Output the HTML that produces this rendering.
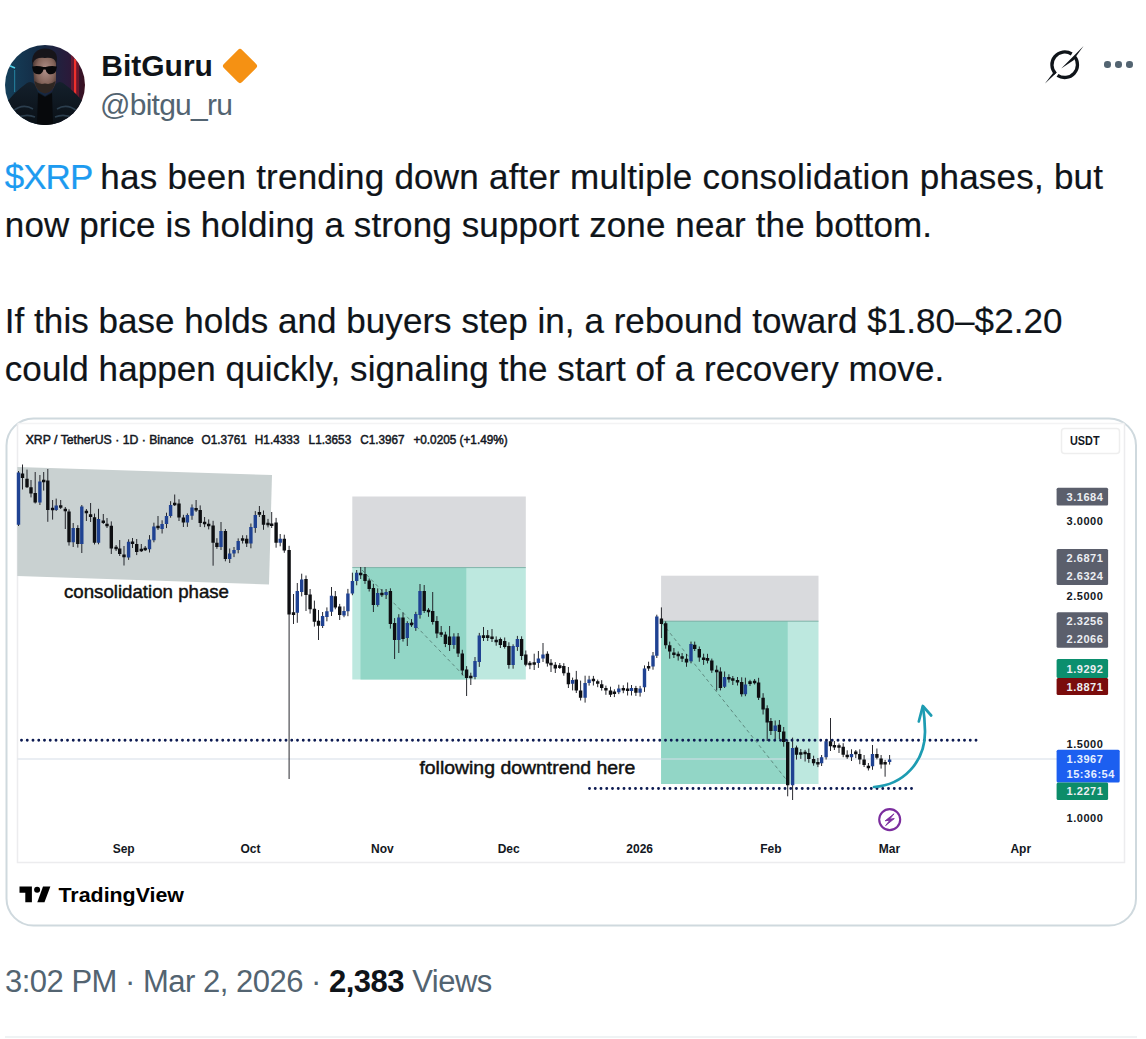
<!DOCTYPE html><html><head><meta charset="utf-8"><style>
*{margin:0;padding:0;box-sizing:border-box}
html,body{width:1146px;height:1039px;background:#fff;overflow:hidden}
body{position:relative;font-family:"Liberation Sans",sans-serif;color:#0f1419}
.a{position:absolute;white-space:nowrap}
</style></head><body>
<svg class="a" style="left:5px;top:45px" width="80" height="80" viewBox="0 0 80 80">
<defs>
<clipPath id="av"><circle cx="40" cy="40" r="40"/></clipPath>
<linearGradient id="bgav" x1="0" x2="1" y1="0" y2="0"><stop offset="0" stop-color="#15405a"/><stop offset="0.45" stop-color="#142a44"/><stop offset="0.8" stop-color="#2a1a3a"/><stop offset="1" stop-color="#3a1020"/></linearGradient>
<radialGradient id="face" cx="0.55" cy="0.35" r="0.65"><stop offset="0" stop-color="#b0908a"/><stop offset="0.6" stop-color="#84645a"/><stop offset="1" stop-color="#3c2c2a"/></radialGradient>
<linearGradient id="jk" x1="0" x2="0" y1="0" y2="1"><stop offset="0" stop-color="#14202c"/><stop offset="1" stop-color="#0a1016"/></linearGradient>
</defs>
<g clip-path="url(#av)">
<rect width="80" height="80" fill="url(#bgav)"/>
<rect x="69" y="14" width="2.2" height="44" fill="#ff3b2a"/>
<rect x="66" y="10" width="8" height="50" fill="#d02030" opacity="0.35"/>
<path d="M3 20 L10 23" stroke="#4fd0e8" stroke-width="1.6"/>
<rect x="9" y="25" width="1.2" height="22" fill="#2aa0c0" opacity="0.6"/>
<path d="M27 16 Q28 4 40 3.5 Q52 4 52 14 L51 22 L28 22 Z" fill="#17151a"/>
<path d="M28 18 Q30 12 40 13 Q50 12 51 18 L51 36 Q50 46 40 48 Q30 46 29 36 Z" fill="url(#face)"/>
<path d="M29.5 36 Q31 47 40 48.5 Q49 47 50.5 36 Q46 40 40 38.5 Q34 40 29.5 36 Z" fill="#2e2622"/>
<path d="M27 21.5 Q33 20.5 38.5 22 L40.5 22 Q46 20.5 52 21.5 L51 26 Q49 30 43.5 29 Q41 27.5 40.5 24.5 L38.5 24.5 Q38 27.5 35.5 29 Q30 30 28 26 Z" fill="#08080a"/>
<path d="M0 80 L0 60 Q8 48 22 38 Q27 35 30 40 L33 47 L40 51 L47 47 L50 40 Q53 35 58 38 Q72 48 80 60 L80 80 Z" fill="url(#jk)"/>
<path d="M8 66 Q18 58 28 64 M10 74 Q20 68 30 72 M52 64 Q62 58 72 66 M50 72 Q60 68 70 74" stroke="#33485a" stroke-width="1.6" fill="none" opacity="0.8"/>
<path d="M33 48 L40 52 L47 48 L48 80 L32 80 Z" fill="#07090c"/>
</g></svg>
<div class="a" style="left:101.3px;top:45.5px;font-size:30px;font-weight:700;line-height:40px;color:#0f1419">BitGuru</div>
<svg class="a" style="left:220.8px;top:46.8px" width="38" height="38" viewBox="0 0 38 38"><rect x="6.1" y="6.1" width="25.8" height="25.8" rx="3" transform="rotate(45 19 19)" fill="#f59113"/></svg>
<div class="a" style="left:100px;top:85px;font-size:30px;line-height:40px;color:#536471;letter-spacing:-0.75px">@bitgu_ru</div>
<svg class="a" style="left:0;top:0" width="1146" height="100" viewBox="0 0 1146 100">
<path d="M1074.5 56.5 A12.8 12.8 0 0 1 1057.5 75.3" fill="none" stroke="#0f1419" stroke-width="3.3"/>
<path d="M1071.7 54.0 A12.8 12.8 0 0 0 1055.5 73.6" fill="none" stroke="#0f1419" stroke-width="3.3"/>
<path d="M1056.8 72.6 L1053.0 73.1 L1045.0 83.6 Z" fill="#0f1419"/>
<path d="M1061.2 68.5 L1073.6 60.3 L1076.3 56.0 L1083.6 45.9 Z" fill="#0f1419"/>
</svg>
<div class="a" style="left:1104.3999999999999px;top:61.39999999999999px;width:6.4px;height:6.4px;border-radius:50%;background:#536471"></div>
<div class="a" style="left:1115.3999999999999px;top:61.39999999999999px;width:6.4px;height:6.4px;border-radius:50%;background:#536471"></div>
<div class="a" style="left:1126.3px;top:61.39999999999999px;width:6.4px;height:6.4px;border-radius:50%;background:#536471"></div>
<div class="a" style="left:4.8px;top:152.7px;font-size:35px;line-height:48px;color:#0f1419;letter-spacing:0.23px;-webkit-text-stroke:0.2px currentColor"><span style="color:#1d9bf0;letter-spacing:-1px">$XRP </span>has been trending down after multiple consolidation phases, but</div>
<div class="a" style="left:4.8px;top:200.7px;font-size:35px;line-height:48px;color:#0f1419;letter-spacing:0.12px;-webkit-text-stroke:0.2px currentColor">now price is holding a strong support zone near the bottom.</div>
<div class="a" style="left:4.8px;top:296.7px;font-size:35px;line-height:48px;color:#0f1419;letter-spacing:0.045px;-webkit-text-stroke:0.2px currentColor">If this base holds and buyers step in, a rebound toward $1.80–$2.20</div>
<div class="a" style="left:4.8px;top:344.7px;font-size:35px;line-height:48px;color:#0f1419;letter-spacing:0.07px;-webkit-text-stroke:0.2px currentColor">could happen quickly, signaling the start of a recovery move.</div>
<svg class="a" style="left:0;top:0" width="1146" height="1039" viewBox="0 0 1146 1039">
<rect x="6.5" y="418.5" width="1129.5" height="507" rx="27" fill="#fff" stroke="#cfd9de" stroke-width="2"/>
<path d="M17.5 424 V862.5 H1124.5 V424" fill="none" stroke="#ececee" stroke-width="1.5"/>
<path d="M17.5 423.5 H1124.5" fill="none" stroke="#f3f3f4" stroke-width="1.5"/>
<rect x="1061.5" y="428.5" width="58" height="25" rx="3" fill="#fff" stroke="#eeeeee" stroke-width="1.5"/>
<polygon points="17.3,467 272,475 269,584.4 17.3,576" fill="#c9d1d1"/>
<rect x="352.3" y="496.5" width="173.5" height="71" fill="#d9dadd"/>
<rect x="352.3" y="567.5" width="173.5" height="112" fill="#bde8df"/>
<rect x="360.5" y="567.5" width="105.8" height="112" fill="#92d6c6"/>
<line x1="352.3" y1="567.6" x2="525.8" y2="567.6" stroke="#7fb3a8" stroke-width="1"/>
<line x1="362" y1="570" x2="466" y2="678" stroke="#5f8a80" stroke-width="1" stroke-dasharray="3.5 3"/>
<rect x="661.1" y="575.7" width="157.4" height="45.3" fill="#d9dadd"/>
<rect x="661.1" y="621" width="157.4" height="163" fill="#bde8df"/>
<rect x="661.1" y="621" width="126.6" height="163" fill="#92d6c6"/>
<line x1="661.1" y1="621.2" x2="818.5" y2="621.2" stroke="#7fb3a8" stroke-width="1"/>
<line x1="662" y1="623" x2="789" y2="783" stroke="#5f8a80" stroke-width="1" stroke-dasharray="3.5 3"/>
<line x1="17.5" y1="759" x2="1057" y2="759" stroke="#d6dde8" stroke-width="1.2"/>
<path d="M18.5 471.0V526.0M22.5 464.5V489.5M27.0 469.6V488.0M31.0 480.0V497.4M35.2 472.0V503.5M39.9 475.0V505.0M43.7 472.0V490.6M47.8 469.0V521.8M52.6 500.0V519.6M56.2 498.6V511.0M60.7 500.0V509.0M65.3 507.0V529.0M69.0 509.3V545.6M73.2 523.0V547.0M77.8 525.2V547.6M81.8 505.0V553.0M86.4 509.0V521.0M90.6 503.0V522.0M94.5 513.6V544.5M98.5 508.8V544.3M103.3 514.0V524.0M107.0 518.0V528.0M111.3 521.4V554.0M116.1 545.0V551.0M119.7 540.0V556.0M124.0 546.0V565.5M128.6 539.3V559.9M132.5 538.0V548.0M136.7 539.0V555.1M141.3 544.0V552.0M145.2 546.0V551.0M149.5 535.1V552.5M153.9 522.7V542.3M158.0 516.0V530.0M162.1 520.3V533.5M166.5 512.7V528.1M170.6 501.2V517.7M174.7 494.5V506.0M179.0 499.3V521.0M183.4 514.8V527.0M187.4 513.4V526.9M192.0 504.4V519.8M196.1 500.0V512.0M200.2 505.4V527.0M204.6 517.0V527.2M208.7 519.4V529.4M213.1 520.8V565.7M216.9 538.2V548.8M221.0 522.0V550.0M225.4 529.0V561.3M229.7 548.5V563.0M234.0 547.0V557.1M238.2 538.4V553.3M242.6 535.3V543.5M246.7 535.2V547.0M250.9 523.5V548.3M255.3 511.1V532.8M259.4 506.0V517.0M263.5 510.5V529.8M268.0 518.9V527.4M271.7 512.0V528.0M276.1 517.9V547.7M280.2 534.0V546.3M284.3 534.7V552.8M289.1 545.8V779.0M293.5 594.0V624.0M297.3 583.0V622.8M301.7 573.7V596.4M306.0 575.5V611.0M310.1 589.0V613.6M314.4 600.6V626.6M318.5 610.0V640.0M322.6 612.0V628.0M326.9 607.4V621.3M331.5 587.0V616.0M335.3 591.0V609.3M339.7 603.9V620.0M344.0 606.4V617.2M347.9 588.9V616.2M352.4 572.7V595.2M356.7 570.0V585.3M360.7 567.0V579.0M365.0 567.0V583.9M369.2 578.5V591.5M373.4 583.8V612.0M377.7 588.4V606.7M381.9 589.0V597.0M386.1 589.0V599.0M390.4 588.3V628.6M394.6 618.1V659.0M398.8 614.2V653.0M403.0 612.5V641.6M407.3 621.2V646.0M411.5 619.1V626.9M415.8 611.8V630.9M420.0 584.0V618.6M424.2 585.0V613.0M428.5 608.1V616.8M432.7 592.0V624.6M436.9 616.1V638.1M441.2 626.0V637.0M445.4 631.7V647.1M449.6 626.0V651.0M453.9 633.3V648.8M458.1 633.0V657.0M462.3 649.8V675.3M466.6 666.1V696.0M470.8 672.7V685.0M475.0 657.0V679.3M479.3 632.9V666.9M483.5 627.0V641.0M487.7 630.0V641.0M492.0 629.0V642.0M496.2 636.4V645.7M500.4 637.5V648.0M504.7 637.5V648.6M508.9 642.3V668.7M513.1 644.3V668.7M517.4 635.9V650.9M521.6 636.3V660.0M525.8 650.5V666.3M529.9 661.0V669.2M534.2 653.7V670.0M538.4 651.0V667.9M543.0 643.0V662.0M547.4 651.3V666.6M551.0 659.1V672.0M555.3 662.1V673.0M559.8 663.0V669.0M563.8 663.2V675.7M568.4 667.0V688.0M572.6 677.6V690.4M576.3 670.9V693.0M580.6 680.6V700.5M585.1 675.7V702.6M589.1 675.8V685.6M593.4 675.9V685.5M597.7 679.6V687.2M601.7 680.2V690.6M605.9 685.6V694.8M610.5 686.7V697.0M614.4 689.3V697.1M618.8 684.7V694.1M623.3 685.3V693.2M627.6 682.5V695.5M631.5 685.0V695.5M635.9 685.9V695.9M640.1 685.9V696.6M644.5 665.4V691.9M648.6 661.7V670.9M653.0 652.0V669.7M656.8 614.7V658.0M661.4 607.4V638.0M665.7 621.4V648.7M669.7 641.6V658.7M673.9 648.0V658.0M678.2 651.5V660.6M682.1 653.0V662.0M686.5 654.0V666.8M691.0 641.6V663.3M694.7 641.6V651.0M699.3 646.5V661.8M703.6 653.7V664.9M707.5 653.8V663.4M711.8 658.6V672.9M716.7 665.5V690.5M720.4 667.3V690.4M724.6 671.5V688.0M728.9 674.3V682.6M732.8 676.0V685.0M737.5 677.0V685.5M741.7 677.3V696.6M745.4 677.7V696.2M750.0 679.8V686.0M754.6 679.0V684.5M758.6 677.8V700.0M763.1 693.2V714.5M767.2 705.3V741.0M770.9 718.0V735.0M775.2 720.5V739.0M779.4 720.0V739.0M783.7 727.0V746.7M787.7 739.7V796.3M792.6 737.6V800.0M796.5 745.6V759.6M800.8 749.0V758.9M805.1 749.9V761.5M808.8 748.6V762.8M813.6 755.7V765.7M817.9 758.0V767.1M821.6 755.0V766.0M826.1 739.5V759.5M830.5 718.0V751.0M834.4 741.0V750.0M839.0 743.5V753.0M843.2 743.2V757.2M847.2 750.3V758.9M851.5 749.3V761.0M855.8 750.0V758.1M859.8 749.3V764.2M864.1 755.0V767.0M868.4 763.0V770.5M872.5 745.0V769.8M876.9 748.5V759.3M881.1 755.0V768.6M885.1 759.9V776.7M889.6 755.0V764.6" stroke="#1c1e24" stroke-width="1" fill="none" opacity="0.95"/>
<path d="M20.8 473.6h3.4V478.0h-3.4ZM25.3 478.7h3.4V487.2h-3.4ZM29.3 487.2h3.4V493.5h-3.4ZM33.5 493.0h3.4V502.5h-3.4ZM42.0 479.7h3.4V482.3h-3.4ZM46.1 480.4h3.4V510.0h-3.4ZM50.9 507.7h3.4V510.3h-3.4ZM59.0 505.2h3.4V507.8h-3.4ZM63.6 508.7h3.4V511.3h-3.4ZM67.3 511.6h3.4V542.2h-3.4ZM76.1 528.0h3.4V544.0h-3.4ZM84.7 510.7h3.4V513.3h-3.4ZM88.9 514.3h3.4V516.9h-3.4ZM92.8 517.3h3.4V542.8h-3.4ZM101.6 520.5h3.4V523.1h-3.4ZM105.3 523.7h3.4V526.3h-3.4ZM109.6 525.8h3.4V548.5h-3.4ZM114.4 546.7h3.4V549.3h-3.4ZM118.0 548.5h3.4V554.0h-3.4ZM122.3 554.6h3.4V557.2h-3.4ZM130.8 541.5h3.4V544.1h-3.4ZM135.0 544.0h3.4V552.0h-3.4ZM139.6 548.8h3.4V551.3h-3.4ZM143.5 547.7h3.4V550.3h-3.4ZM156.3 525.7h3.4V528.3h-3.4ZM173.0 502.7h3.4V505.3h-3.4ZM177.3 503.5h3.4V517.4h-3.4ZM181.7 517.4h3.4V522.4h-3.4ZM194.4 508.0h3.4V510.6h-3.4ZM198.5 510.0h3.4V523.0h-3.4ZM202.9 521.7h3.4V524.3h-3.4ZM207.0 523.7h3.4V526.3h-3.4ZM211.4 525.6h3.4V542.8h-3.4ZM215.2 542.8h3.4V547.0h-3.4ZM223.7 531.0h3.4V559.0h-3.4ZM240.9 538.2h3.4V540.8h-3.4ZM245.0 538.7h3.4V543.6h-3.4ZM257.7 512.1h3.4V514.7h-3.4ZM261.8 515.0h3.4V524.8h-3.4ZM266.3 522.7h3.4V525.3h-3.4ZM270.0 523.5h3.4V526.1h-3.4ZM274.4 522.4h3.4V542.8h-3.4ZM282.6 538.7h3.4V550.6h-3.4ZM287.4 550.0h3.4V614.6h-3.4ZM291.8 612.3h3.4V614.9h-3.4ZM304.3 579.0h3.4V594.9h-3.4ZM308.4 594.4h3.4V609.3h-3.4ZM312.7 608.8h3.4V621.8h-3.4ZM316.8 620.8h3.4V625.7h-3.4ZM333.6 596.3h3.4V607.4h-3.4ZM338.0 606.4h3.4V615.0h-3.4ZM359.0 572.7h3.4V575.3h-3.4ZM363.3 574.0h3.4V581.0h-3.4ZM367.5 580.5h3.4V589.0h-3.4ZM371.7 588.0h3.4V605.0h-3.4ZM380.2 592.7h3.4V595.3h-3.4ZM388.7 591.0h3.4V624.0h-3.4ZM392.9 623.0h3.4V640.0h-3.4ZM401.3 617.5h3.4V639.0h-3.4ZM409.8 622.7h3.4V625.3h-3.4ZM422.5 591.0h3.4V611.0h-3.4ZM426.8 609.7h3.4V612.3h-3.4ZM431.0 611.0h3.4V622.0h-3.4ZM435.2 621.0h3.4V633.5h-3.4ZM439.5 632.2h3.4V634.8h-3.4ZM443.7 634.5h3.4V644.0h-3.4ZM447.9 636.6h3.4V645.0h-3.4ZM456.4 636.6h3.4V653.5h-3.4ZM460.6 653.5h3.4V670.5h-3.4ZM464.9 669.4h3.4V678.0h-3.4ZM469.1 675.7h3.4V678.3h-3.4ZM481.8 635.3h3.4V637.9h-3.4ZM486.0 635.3h3.4V637.9h-3.4ZM490.3 636.4h3.4V639.0h-3.4ZM494.5 639.7h3.4V642.3h-3.4ZM498.7 639.0h3.4V645.0h-3.4ZM503.0 641.0h3.4V647.0h-3.4ZM507.2 646.0h3.4V665.0h-3.4ZM519.9 639.0h3.4V656.0h-3.4ZM524.1 654.6h3.4V664.7h-3.4ZM528.2 662.7h3.4V665.3h-3.4ZM532.5 662.2h3.4V664.8h-3.4ZM545.7 653.7h3.4V663.5h-3.4ZM549.3 662.7h3.4V665.3h-3.4ZM553.6 664.7h3.4V668.4h-3.4ZM558.1 665.3h3.4V667.9h-3.4ZM562.1 666.0h3.4V673.3h-3.4ZM566.7 672.7h3.4V684.3h-3.4ZM574.6 679.4h3.4V690.4h-3.4ZM578.9 690.4h3.4V697.7h-3.4ZM591.7 678.7h3.4V681.3h-3.4ZM596.0 681.2h3.4V683.8h-3.4ZM600.0 684.3h3.4V688.0h-3.4ZM604.2 687.9h3.4V690.5h-3.4ZM608.8 690.4h3.4V694.7h-3.4ZM612.7 691.5h3.4V694.1h-3.4ZM621.6 687.9h3.4V690.5h-3.4ZM625.9 688.5h3.4V691.1h-3.4ZM634.2 688.0h3.4V692.8h-3.4ZM646.9 665.9h3.4V668.5h-3.4ZM659.7 618.4h3.4V623.9h-3.4ZM664.0 623.3h3.4V645.3h-3.4ZM668.0 645.3h3.4V651.4h-3.4ZM672.2 652.5h3.4V655.1h-3.4ZM676.5 653.7h3.4V656.3h-3.4ZM680.4 656.2h3.4V658.8h-3.4ZM684.8 658.7h3.4V662.4h-3.4ZM693.0 644.7h3.4V649.0h-3.4ZM697.6 649.0h3.4V657.5h-3.4ZM701.9 657.4h3.4V660.0h-3.4ZM705.8 658.1h3.4V660.7h-3.4ZM710.1 660.6h3.4V670.4h-3.4ZM715.0 669.7h3.4V672.3h-3.4ZM718.7 671.6h3.4V688.0h-3.4ZM727.2 677.0h3.4V679.6h-3.4ZM731.1 678.2h3.4V680.8h-3.4ZM735.8 680.0h3.4V682.6h-3.4ZM740.0 682.0h3.4V694.2h-3.4ZM748.3 681.3h3.4V683.9h-3.4ZM752.9 680.7h3.4V683.3h-3.4ZM756.9 682.6h3.4V697.8h-3.4ZM761.4 697.8h3.4V709.5h-3.4ZM765.5 708.3h3.4V722.4h-3.4ZM769.2 721.0h3.4V731.0h-3.4ZM777.7 724.8h3.4V732.0h-3.4ZM782.0 731.5h3.4V742.0h-3.4ZM786.0 742.0h3.4V785.3h-3.4ZM794.8 747.4h3.4V754.7h-3.4ZM799.1 752.2h3.4V754.8h-3.4ZM803.4 751.7h3.4V754.3h-3.4ZM807.1 753.0h3.4V759.0h-3.4ZM811.9 759.0h3.4V763.3h-3.4ZM816.2 762.0h3.4V764.6h-3.4ZM828.8 741.3h3.4V746.2h-3.4ZM832.7 744.9h3.4V747.5h-3.4ZM837.3 745.2h3.4V747.8h-3.4ZM841.5 746.8h3.4V754.7h-3.4ZM845.5 754.7h3.4V757.2h-3.4ZM854.1 751.6h3.4V754.2h-3.4ZM858.1 754.0h3.4V759.6h-3.4ZM862.4 759.6h3.4V765.1h-3.4ZM866.7 765.7h3.4V768.3h-3.4ZM875.2 754.0h3.4V757.8h-3.4ZM879.4 758.4h3.4V764.5h-3.4ZM883.4 762.0h3.4V764.6h-3.4Z" fill="#0e0f12"/>
<path d="M16.8 472.5h3.4V524.7h-3.4ZM38.2 481.6h3.4V502.5h-3.4ZM54.5 505.4h3.4V510.0h-3.4ZM71.5 528.0h3.4V542.2h-3.4ZM80.1 506.5h3.4V544.0h-3.4ZM96.8 519.0h3.4V542.8h-3.4ZM126.9 541.7h3.4V557.6h-3.4ZM147.8 539.5h3.4V549.3h-3.4ZM152.2 526.4h3.4V540.3h-3.4ZM160.4 524.0h3.4V529.0h-3.4ZM164.8 516.0h3.4V524.0h-3.4ZM168.9 505.0h3.4V516.0h-3.4ZM185.7 515.0h3.4V522.4h-3.4ZM190.3 507.6h3.4V515.8h-3.4ZM219.3 531.0h3.4V547.0h-3.4ZM228.0 553.4h3.4V559.0h-3.4ZM232.3 550.0h3.4V553.4h-3.4ZM236.5 541.0h3.4V550.0h-3.4ZM249.2 527.0h3.4V543.6h-3.4ZM253.6 515.0h3.4V528.0h-3.4ZM278.5 538.7h3.4V542.8h-3.4ZM295.6 591.0h3.4V612.7h-3.4ZM300.0 579.5h3.4V592.0h-3.4ZM320.9 616.0h3.4V626.0h-3.4ZM325.2 611.2h3.4V617.0h-3.4ZM329.8 595.8h3.4V611.7h-3.4ZM342.3 611.0h3.4V615.5h-3.4ZM346.2 593.4h3.4V611.2h-3.4ZM350.7 581.0h3.4V593.4h-3.4ZM355.0 572.7h3.4V581.0h-3.4ZM376.0 593.0h3.4V605.0h-3.4ZM384.4 592.0h3.4V595.0h-3.4ZM397.1 617.5h3.4V640.0h-3.4ZM405.6 623.0h3.4V638.0h-3.4ZM414.1 614.0h3.4V628.0h-3.4ZM418.3 591.0h3.4V615.0h-3.4ZM452.2 636.6h3.4V645.0h-3.4ZM473.3 661.0h3.4V677.0h-3.4ZM477.6 635.5h3.4V662.0h-3.4ZM511.4 646.0h3.4V665.0h-3.4ZM515.7 639.0h3.4V647.0h-3.4ZM536.7 658.6h3.4V663.0h-3.4ZM541.3 654.4h3.4V658.6h-3.4ZM570.9 680.0h3.4V683.7h-3.4ZM583.4 683.0h3.4V697.7h-3.4ZM587.4 679.4h3.4V683.0h-3.4ZM617.1 688.6h3.4V692.2h-3.4ZM629.8 688.0h3.4V691.0h-3.4ZM638.4 688.6h3.4V692.8h-3.4ZM642.8 668.4h3.4V687.3h-3.4ZM651.3 655.6h3.4V666.6h-3.4ZM655.1 616.6h3.4V655.7h-3.4ZM689.3 644.0h3.4V661.2h-3.4ZM722.9 677.0h3.4V686.8h-3.4ZM743.7 684.4h3.4V694.2h-3.4ZM773.5 725.4h3.4V731.0h-3.4ZM790.9 748.0h3.4V785.3h-3.4ZM819.9 757.2h3.4V763.3h-3.4ZM824.4 741.3h3.4V757.2h-3.4ZM849.8 754.0h3.4V757.2h-3.4ZM870.8 754.0h3.4V766.3h-3.4ZM887.9 759.5h3.4V762.1h-3.4Z" fill="#1f4292"/>
<line x1="21.5" y1="740.3" x2="976" y2="740.3" stroke="#0d1b52" stroke-width="2.9" stroke-linecap="round" stroke-dasharray="0.01 5.74"/>
<line x1="589.5" y1="788.5" x2="916" y2="788.5" stroke="#0d1b52" stroke-width="2.9" stroke-linecap="round" stroke-dasharray="0.01 5.74"/>
<path d="M874 787 C903 785 925.5 762 925 731 C924.8 720 924 713 923 707" fill="none" stroke="#1d9cb2" stroke-width="2.7" stroke-linecap="round"/>
<path d="M918.8 721.5 L922.8 706 L931.2 715.5" fill="none" stroke="#1d9cb2" stroke-width="2.7" stroke-linecap="round" stroke-linejoin="round"/>
<circle cx="889.7" cy="819.6" r="10.5" fill="#fff" stroke="#7b2d9e" stroke-width="2.1"/>
<path d="M894 813.8 L885.2 820.8 L889.9 820.2 L885.6 825.6 L894.3 818.6 L889.6 819.2 Z" fill="#7b2d9e" stroke="#7b2d9e" stroke-width="0.9" stroke-linejoin="round"/>
<rect x="1056.6" y="487.7" width="51.5" height="17.69999999999999" rx="1.5" fill="#5b5f6c"/>
<text x="1066.5" y="500.5" font-family="Liberation Sans" font-size="11" font-weight="700" letter-spacing="0.55" fill="#eceef2">3.1684</text>
<rect x="1056.6" y="549" width="51.5" height="36" rx="1.5" fill="#5b5f6c"/>
<text x="1066.5" y="562.0" font-family="Liberation Sans" font-size="11" font-weight="700" letter-spacing="0.55" fill="#eceef2">2.6871</text>
<text x="1066.5" y="580.0" font-family="Liberation Sans" font-size="11" font-weight="700" letter-spacing="0.55" fill="#eceef2">2.6324</text>
<rect x="1056.6" y="612.3" width="51.5" height="35.40000000000009" rx="1.5" fill="#5b5f6c"/>
<text x="1066.5" y="625.1" font-family="Liberation Sans" font-size="11" font-weight="700" letter-spacing="0.55" fill="#eceef2">2.3256</text>
<text x="1066.5" y="642.9" font-family="Liberation Sans" font-size="11" font-weight="700" letter-spacing="0.55" fill="#eceef2">2.2066</text>
<rect x="1056.6" y="659" width="51.5" height="19" rx="1.5" fill="#0b8f6e"/>
<text x="1066.5" y="672.5" font-family="Liberation Sans" font-size="11" font-weight="700" letter-spacing="0.55" fill="#eceef2">1.9292</text>
<rect x="1056.6" y="678" width="51.5" height="17" rx="1.5" fill="#7a0c0c"/>
<text x="1066.5" y="690.5" font-family="Liberation Sans" font-size="11" font-weight="700" letter-spacing="0.55" fill="#eceef2">1.8871</text>
<rect x="1056.6" y="749.8" width="63.100000000000136" height="32.60000000000002" rx="1.5" fill="#1c5ff0"/>
<text x="1066.5" y="763.3" font-family="Liberation Sans" font-size="11" font-weight="700" letter-spacing="0.55" fill="#e6f0ff">1.3967</text>
<text x="1066.5" y="777.7" font-family="Liberation Sans" font-size="11" font-weight="700" letter-spacing="0.55" fill="#e6f0ff">15:36:54</text>
<rect x="1056.6" y="782.4" width="51.5" height="17.600000000000023" rx="1.5" fill="#0c8c69"/>
<text x="1066.5" y="795.2" font-family="Liberation Sans" font-size="11" font-weight="700" letter-spacing="0.55" fill="#eceef2">1.2271</text>
<text x="1066.5" y="525.3" font-family="Liberation Sans" font-size="11" font-weight="700" letter-spacing="0.55" fill="#131722">3.0000</text>
<text x="1066.5" y="599.7" font-family="Liberation Sans" font-size="11" font-weight="700" letter-spacing="0.55" fill="#131722">2.5000</text>
<text x="1066.5" y="748.2" font-family="Liberation Sans" font-size="11" font-weight="700" letter-spacing="0.55" fill="#131722">1.5000</text>
<text x="1066.5" y="822.2" font-family="Liberation Sans" font-size="11" font-weight="700" letter-spacing="0.55" fill="#131722">1.0000</text>
<text x="1070" y="445.3" font-family="Liberation Sans" font-size="12" font-weight="700" fill="#131722" textLength="29.5" lengthAdjust="spacingAndGlyphs">USDT</text>
<text x="25.7" y="443.6" font-family="Liberation Sans" font-size="12.5" fill="#131722" stroke="#131722" stroke-width="0.5" textLength="167.8" lengthAdjust="spacingAndGlyphs">XRP / TetherUS · 1D · Binance</text>
<text x="201.5" y="443.6" font-family="Liberation Sans" font-size="12.5" fill="#131722" stroke="#131722" stroke-width="0.5" textLength="45.4" lengthAdjust="spacingAndGlyphs">O1.3761</text>
<text x="254.8" y="443.6" font-family="Liberation Sans" font-size="12.5" fill="#131722" stroke="#131722" stroke-width="0.5" textLength="44.7" lengthAdjust="spacingAndGlyphs">H1.4333</text>
<text x="308.6" y="443.6" font-family="Liberation Sans" font-size="12.5" fill="#131722" stroke="#131722" stroke-width="0.5" textLength="42.6" lengthAdjust="spacingAndGlyphs">L1.3653</text>
<text x="360.3" y="443.6" font-family="Liberation Sans" font-size="12.5" fill="#131722" stroke="#131722" stroke-width="0.5" textLength="44.2" lengthAdjust="spacingAndGlyphs">C1.3967</text>
<text x="413.4" y="443.6" font-family="Liberation Sans" font-size="12.5" fill="#131722" stroke="#131722" stroke-width="0.5" textLength="94.3" lengthAdjust="spacingAndGlyphs">+0.0205 (+1.49%)</text>
<text x="123.7" y="853.2" text-anchor="middle" font-family="Liberation Sans" font-size="12" font-weight="700" fill="#131722">Sep</text>
<text x="250.4" y="853.2" text-anchor="middle" font-family="Liberation Sans" font-size="12" font-weight="700" fill="#131722">Oct</text>
<text x="382.4" y="853.2" text-anchor="middle" font-family="Liberation Sans" font-size="12" font-weight="700" fill="#131722">Nov</text>
<text x="508.7" y="853.2" text-anchor="middle" font-family="Liberation Sans" font-size="12" font-weight="700" fill="#131722">Dec</text>
<text x="639.7" y="853.2" text-anchor="middle" font-family="Liberation Sans" font-size="12" font-weight="700" fill="#131722">2026</text>
<text x="770.9" y="853.2" text-anchor="middle" font-family="Liberation Sans" font-size="12" font-weight="700" fill="#131722">Feb</text>
<text x="889.4" y="853.2" text-anchor="middle" font-family="Liberation Sans" font-size="12" font-weight="700" fill="#131722">Mar</text>
<text x="1020.8" y="853.2" text-anchor="middle" font-family="Liberation Sans" font-size="12" font-weight="700" fill="#131722">Apr</text>
<text x="64" y="598.2" font-family="Liberation Sans" font-size="18.5" fill="#111" stroke="#111" stroke-width="0.45" textLength="165" lengthAdjust="spacingAndGlyphs">consolidation phase</text>
<text x="419.4" y="773.5" font-family="Liberation Sans" font-size="18" fill="#111" stroke="#111" stroke-width="0.45" textLength="216" lengthAdjust="spacingAndGlyphs">following downtrend here</text>
<path d="M19.5 886.5 H31.9 V902.3 H25.3 V892.7 H19.5 Z" fill="#000"/>
<circle cx="37.1" cy="889.8" r="3" fill="#000"/>
<path d="M43 886.5 H50.4 L44.5 902.3 H37.3 Z" fill="#000"/>
<text x="58.5" y="901.7" font-family="Liberation Sans" font-size="21" font-weight="700" fill="#000" textLength="125.5" lengthAdjust="spacingAndGlyphs">TradingView</text>
</svg>
<div class="a" style="left:5px;top:961.5px;font-size:31px;line-height:40px;color:#536471;letter-spacing:-0.5px">3:02 PM · Mar 2, 2026 · <span style="color:#0f1419;font-weight:700">2,383</span> Views</div><div class="a" style="left:5px;top:1036px;width:1132px;height:2px;background:#eff3f4"></div>
</body></html>
